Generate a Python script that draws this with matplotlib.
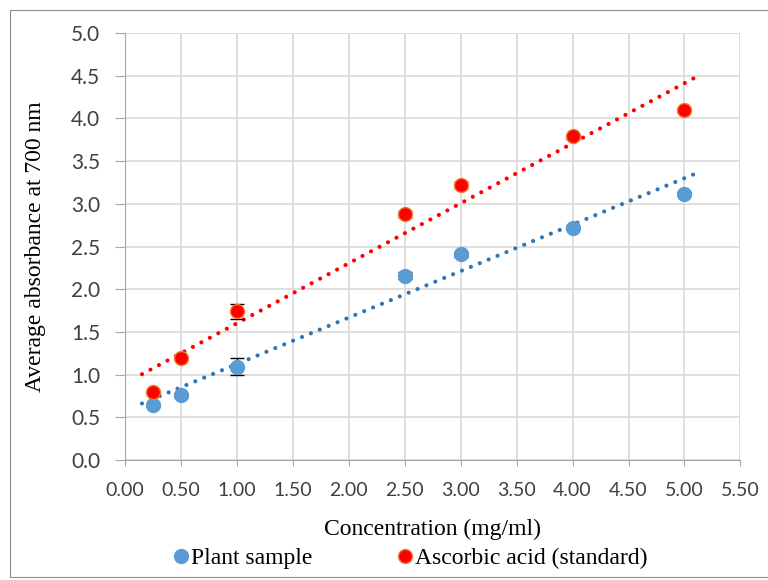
import numpy as np
import matplotlib
matplotlib.use("Agg")
import matplotlib.pyplot as plt
from matplotlib.patches import Rectangle

# concentrations (mg/ml)
conc = [0.25, 0.5, 1.0, 2.5, 3.0, 4.0, 5.0]

# average absorbance at 700 nm
plant = [0.64, 0.76, 1.09, 2.16, 2.41, 2.72, 3.12]
plant_err = [0.02, 0.02, 0.10, 0.04, 0.03, 0.02, 0.02]
ascorbic = [0.79, 1.19, 1.74, 2.88, 3.22, 3.79, 4.10]
ascorbic_err = [0.02, 0.02, 0.09, 0.04, 0.04, 0.03, 0.02]

xticks = [0.00, 0.50, 1.00, 1.50, 2.00, 2.50, 3.00, 3.50, 4.00, 4.50, 5.00, 5.50]
yticks = [0.0, 0.5, 1.0, 1.5, 2.0, 2.5, 3.0, 3.5, 4.0, 4.5, 5.0]

fig = plt.figure(figsize=(7.68, 5.8), dpi=100)
ax = fig.add_axes([0.163, 0.207, 0.801, 0.736])

# chart border like in Excel
fig.patches.append(Rectangle((10 / 768, 3 / 580), 1.0, 567 / 580, transform=fig.transFigure,
                             fill=False, edgecolor="#8c8c8c", linewidth=0.8))

blue = "#5B9BD5"
blue_line = "#2E75B6"
red = "#FF0000"

ax.errorbar(conc, plant, yerr=plant_err, fmt="o", color=blue, markersize=10,
            ecolor="black", elinewidth=1, capsize=5, zorder=3)
ax.errorbar(conc, ascorbic, yerr=ascorbic_err, fmt="o", color=red, markeredgecolor="#F4772A",
            markeredgewidth=1, markersize=10, ecolor="black", elinewidth=1, capsize=5, zorder=3)

# linear trendlines (round dots)
xt = np.array([0.15, 5.1])
for y, c in [(plant, blue_line), (ascorbic, red)]:
    k, b = np.polyfit(conc, y, 1)
    ax.plot(xt, k * xt + b, linestyle=(0, (0.01, 2.3)), color=c, linewidth=3,
            dash_capstyle="round", zorder=2)

ax.set_xlim(0, 5.5)
ax.set_ylim(0, 5)
ax.set_xticks(xticks)
ax.set_xticklabels([f"{v:.2f}" for v in xticks])
ax.set_yticks(yticks)
ax.set_yticklabels([f"{v:.1f}" for v in yticks])
ax.tick_params(axis="x", labelsize=14, length=4, pad=12, color="#a6a6a6")
ax.tick_params(axis="y", labelsize=15, length=7, pad=11, color="#a6a6a6")
for lab in ax.get_xticklabels() + ax.get_yticklabels():
    lab.set_fontfamily("Lato")
    lab.set_color("#404040")

ax.grid(True, color="#d9d9d9", linewidth=1.2)
ax.set_axisbelow(True)
for s in ["top", "right"]:
    ax.spines[s].set_visible(False)
for s in ["left", "bottom"]:
    ax.spines[s].set_color("#a6a6a6")

ax.set_xlabel("Concentration (mg/ml)", fontfamily="Liberation Serif", fontsize=17)
ax.xaxis.set_label_coords(0.5, -0.137)
ax.set_ylabel("Average absorbance at 700 nm", fontfamily="Liberation Serif", fontsize=17)
ax.yaxis.set_label_coords(-0.128, 0.5)

handles = [
    plt.Line2D([], [], marker="o", linestyle="", color=blue, markersize=10),
    plt.Line2D([], [], marker="o", linestyle="", color=red, markeredgecolor="#F4772A", markersize=10),
]
fig.legend(handles, ["Plant sample", "Ascorbic acid (standard)"], loc="center",
           bbox_to_anchor=(0.524, 0.037), ncol=2, frameon=False, columnspacing=2.9,
           handletextpad=-0.55, prop={"family": "Liberation Serif", "size": 17})

fig.savefig("out.png", dpi=100)
